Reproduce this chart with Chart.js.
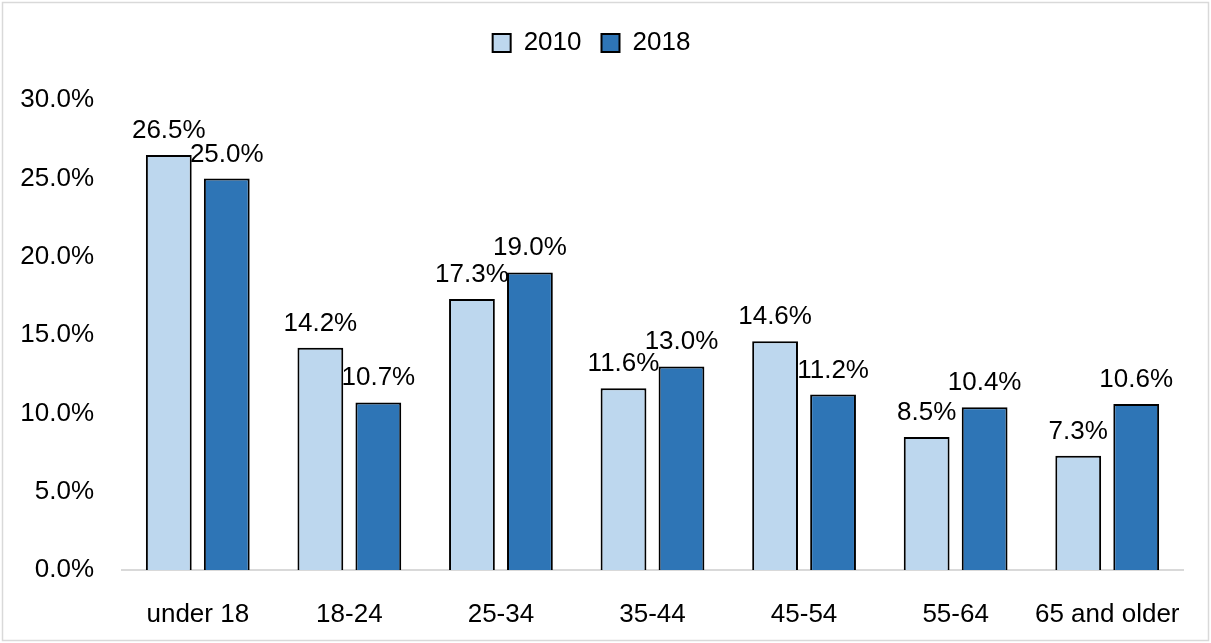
<!DOCTYPE html>
<html lang="en">
  <head>
    <meta charset="UTF-8" />
    <title>Age groups 2010 vs 2018</title>
    <style>
      html, body { margin: 0; padding: 0; background: #fff; }
      #wrap { width: 1211px; height: 643px; position: relative; }
    </style>
  </head>
  <body>
    <div id="wrap"><canvas id="ageChart"></canvas></div>

    <script src="https://cdn.jsdelivr.net/npm/chart.js@4.4.0/dist/chart.umd.min.js"></script>
    <script>
      const ageGroups = ['under 18', '18-24', '25-34', '35-44', '45-54', '55-64', '65 and older']
      const share2010 = [26.5, 14.2, 17.3, 11.6, 14.6, 8.5, 7.3]
      const share2018 = [25.0, 10.7, 19.0, 13.0, 11.2, 10.4, 10.6]
      const yTicks = [0, 5, 10, 15, 20, 25, 30]

      const fontFamily = '"Liberation Sans", Arial, sans-serif'
      const fontSize = 26
      Chart.defaults.font.family = fontFamily
      Chart.defaults.font.size = fontSize
      Chart.defaults.color = '#000'

      // value labels above every bar
      const valueLabels = {
        id: 'valueLabels',
        afterDatasetsDraw(chart) {
          const ctx = chart.ctx
          ctx.save()
          ctx.font = fontSize + 'px ' + fontFamily
          ctx.fillStyle = '#000'
          ctx.textAlign = 'center'
          ctx.textBaseline = 'alphabetic'
          chart.data.datasets.forEach((ds, i) => {
            chart.getDatasetMeta(i).data.forEach((bar, j) => {
              ctx.fillText(ds.data[j].toFixed(1) + '%', bar.x, bar.y - 17)
            })
          })
          ctx.restore()
        },
      }

      // thin grey frame round the chart
      const frame = {
        id: 'frame',
        beforeDraw(chart) {
          const ctx = chart.ctx
          ctx.save()
          ctx.strokeStyle = '#d9d9d9'
          ctx.lineWidth = 1.5
          ctx.strokeRect(2.5, 2.5, chart.width - 5, chart.height - 5)
          ctx.restore()
        },
      }

      new Chart('ageChart', {
        type: 'bar',
        data: {
          labels: ageGroups,
          datasets: [
            {
              label: '2010',
              data: share2010,
              backgroundColor: '#BDD7EE',
              borderColor: '#000',
              borderWidth: 2,
            },
            {
              label: '2018',
              data: share2018,
              backgroundColor: '#2E75B6',
              borderColor: '#000',
              borderWidth: 2,
            },
          ],
        },
        plugins: [frame, valueLabels],
        options: {
          responsive: true,
          maintainAspectRatio: false,
          animation: false,
          layout: { padding: { top: 10, right: 28, bottom: 0, left: 0 } },
          datasets: { bar: { categoryPercentage: 0.765, barPercentage: 0.79 } },
          plugins: {
            legend: {
              position: 'top',
              labels: {
                boxWidth: 18,
                boxHeight: 18,
                padding: 20,
              },
            },
            // empty spacer between legend and plot
            subtitle: {
              display: true,
              text: ' ',
              weight: 500,
              padding: { top: 0, bottom: 3 },
            },
            tooltip: { enabled: false },
          },
          scales: {
            x: {
              grid: { display: false },
              border: { display: true, color: '#d9d9d9', width: 2 },
              ticks: { padding: 21, maxRotation: 0, minRotation: 0, autoSkip: false },
              afterFit(scale) { scale.height = 73 },
            },
            y: {
              min: 0,
              max: 30,
              grid: { display: false, drawTicks: false },
              border: { display: false },
              afterBuildTicks(scale) { scale.ticks = yTicks.map((v) => ({ value: v })) },
              ticks: {
                padding: 28,
                callback: (v) => v.toFixed(1) + '%',
              },
              afterFit(scale) { scale.width = 122 },
            },
          },
        },
      })
    </script>
  </body>
</html>
